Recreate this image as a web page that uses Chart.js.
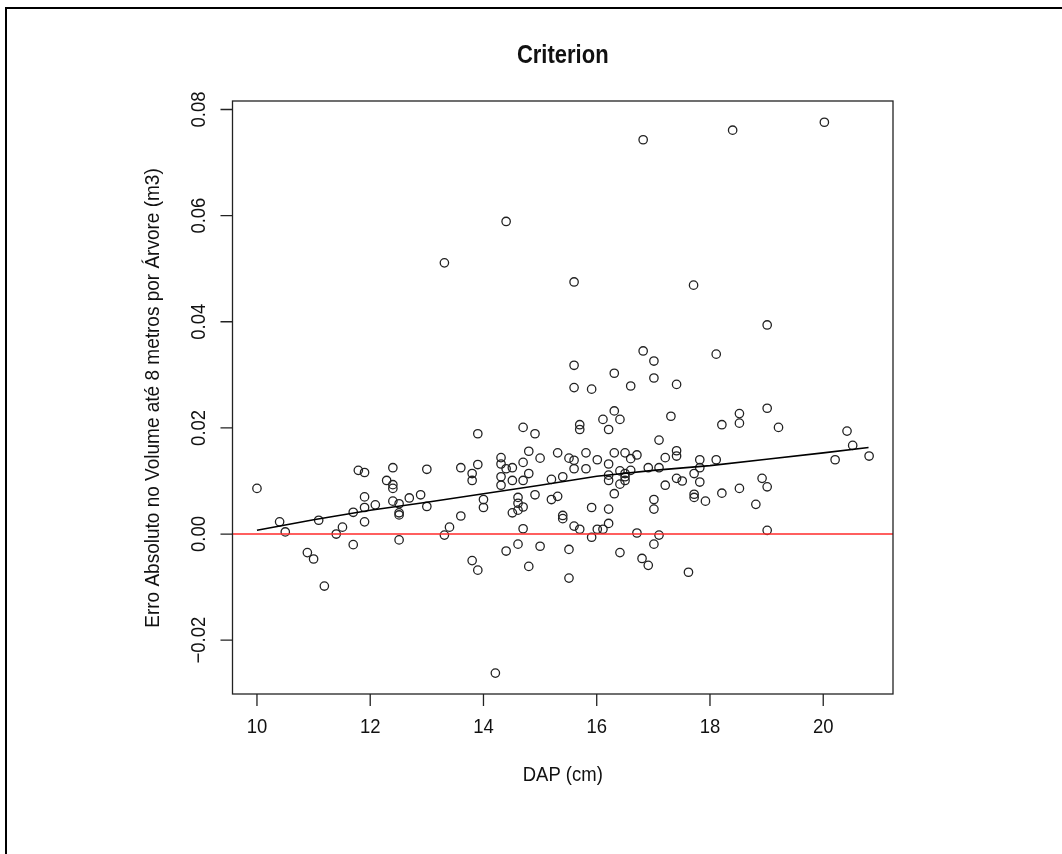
<!DOCTYPE html>
<html>
<head>
<meta charset="utf-8">
<script src="https://cdn.jsdelivr.net/npm/chart.js@4.4.1/dist/chart.umd.min.js"></script>
<style>
  html, body { margin:0; padding:0; background:#fff; }
  #wrap { position:relative; width:1062px; height:854px; }
  #frame { position:absolute; left:5px; top:7px; right:0; bottom:0; border-left:2px solid #000; border-top:2px solid #000; pointer-events:none; }
</style>
</head>
<body>
<div id="wrap">
  <canvas id="chart" width="1062" height="854"></canvas>
  <div id="frame"></div>
</div>
<script>
/* Criterion - residual scatter (DAP vs absolute volume error) */

const dap = [
  10.00, 10.40, 10.50, 10.89, 11.00, 11.09, 11.19, 11.40, 11.51, 11.70, 11.70, 11.79, 11.90, 11.90, 11.90, 11.90,
  12.09, 12.29, 12.40, 12.40, 12.40, 12.40, 12.51, 12.51, 12.51, 12.51, 12.69, 12.89, 13.00, 13.00, 13.31, 13.40,
  13.60, 13.60, 13.80, 13.80, 13.80, 13.90, 13.90, 13.90, 14.00, 14.00, 14.21, 14.31, 14.31, 14.31, 14.31, 14.40,
  14.40, 14.51, 14.51, 14.51, 14.61, 14.61, 14.61, 14.61, 14.70, 14.70, 14.70, 14.70, 14.70, 14.80, 14.80, 14.80,
  14.91, 14.91, 15.00, 15.00, 15.20, 15.20, 15.31, 15.31, 15.40, 15.40, 15.40, 15.51, 15.51, 15.51, 15.60, 15.60,
  15.60, 15.60, 15.70, 15.70, 15.70, 15.81, 15.81, 15.91, 15.91, 15.91, 16.01, 16.01, 16.11, 16.11, 16.21, 16.21,
  16.21, 16.21, 16.21, 16.21, 16.31, 16.31, 16.31, 16.41, 16.41, 16.41, 16.41, 16.50, 16.50, 16.50, 16.50, 16.60,
  16.60, 16.60, 16.71, 16.71, 16.80, 16.91, 16.91, 17.01, 17.01, 17.01, 17.10, 17.10, 17.10,
  16.82, 17.01, 17.01, 17.41, 17.31, 17.21, 17.41, 17.41, 17.21, 17.41, 17.51, 17.72, 17.82, 17.82, 17.82, 17.72,
  17.72, 17.92, 17.62, 18.11, 18.11, 18.21, 18.21, 18.52, 18.52, 18.52, 18.81, 18.92, 19.01, 19.01, 19.01, 19.01,
  19.21, 20.21, 20.42, 20.52, 20.81,
  20.02, 18.40, 16.82, 14.40, 13.31, 15.60, 17.71, 15.60, 16.31
];
const erro = [
  0.0086, 0.0023, 0.0004, -0.0035, -0.0047, 0.0026, -0.0098, 0.0000, 0.0013, -0.0020, 0.0041, 0.0120, 0.0116, 0.0070, 0.0050, 0.0023,
  0.0055, 0.0101, 0.0125, 0.0093, 0.0086, 0.0062, 0.0057, 0.0040, 0.0036, -0.0011, 0.0068, 0.0074, 0.0122, 0.0052, -0.0002, 0.0013,
  0.0034, 0.0125, 0.0114, 0.0101, -0.0050, -0.0068, 0.0131, 0.0189, 0.0065, 0.0050, -0.0262, 0.0144, 0.0132, 0.0108, 0.0092, 0.0123,
  -0.0032, 0.0125, 0.0101, 0.0040, 0.0069, 0.0058, 0.0045, -0.0019, 0.0201, 0.0135, 0.0101, 0.0051, 0.0010, 0.0156, 0.0114, -0.0061,
  0.0189, 0.0074, 0.0143, -0.0023, 0.0103, 0.0065, 0.0153, 0.0071, 0.0108, 0.0035, 0.0029, 0.0143, -0.0029, -0.0083, 0.0276, 0.0139,
  0.0123, 0.0015, 0.0206, 0.0197, 0.0009, 0.0153, 0.0123, 0.0273, 0.0050, -0.0006, 0.0140, 0.0009, 0.0216, 0.0009, 0.0197, 0.0132,
  0.0111, 0.0101, 0.0047, 0.0020, 0.0232, 0.0153, 0.0076, 0.0216, 0.0119, 0.0094, -0.0035, 0.0153, 0.0114, 0.0108, 0.0101, 0.0279,
  0.0142, 0.0120, 0.0149, 0.0002, -0.0046, -0.0059, 0.0125, 0.0065, 0.0047, -0.0019, 0.0177, 0.0125, -0.0002,
  0.0345, 0.0326, 0.0294, 0.0282, 0.0222, 0.0144, 0.0157, 0.0147, 0.0092, 0.0105, 0.0100, 0.0114, 0.0140, 0.0125, 0.0098, 0.0075,
  0.0069, 0.0062, -0.0072, 0.0339, 0.0140, 0.0206, 0.0077, 0.0227, 0.0209, 0.0086, 0.0056, 0.0105, 0.0394, 0.0237, 0.0089, 0.0007,
  0.0201, 0.0140, 0.0194, 0.0167, 0.0147,
  0.0776, 0.0761, 0.0743, 0.0589, 0.0511, 0.0475, 0.0469, 0.0318, 0.0303
];

// smoother line
const fitX = [10, 11, 12, 13, 14, 15, 16, 17, 18, 19, 20, 20.8];
const fitY = [0.0007, 0.0027, 0.0045, 0.0060, 0.0076, 0.0092, 0.0109, 0.0120, 0.0129, 0.0141, 0.0153, 0.0163];

const refLine = 0;

const xTicks = [10, 12, 14, 16, 18, 20];
const xTickLabels = ['10', '12', '14', '16', '18', '20'];
const yTicks = [-0.02, 0, 0.02, 0.04, 0.06, 0.08];
const yTickLabels = ['\u22120.02', '0.00', '0.02', '0.04', '0.06', '0.08'];

const chartTitle = 'Criterion';
const xTitle = 'DAP (cm)';
const yTitle = 'Erro Absoluto no Volume até 8 metros por Árvore (m3)';

const FONT = '"Liberation Sans", Arial, Helvetica, sans-serif';

function text(ctx, str, x, y, font, rot, k) {
  ctx.save();
  ctx.translate(x, y);
  if (rot) ctx.rotate(rot);
  ctx.scale(k || 0.88, 1);
  ctx.font = font;
  ctx.fillStyle = '#111';
  ctx.textAlign = 'center';
  ctx.textBaseline = 'middle';
  ctx.fillText(str, 0, 0);
  ctx.restore();
}

// R style box, ticks, labels and the h=0 line
const rAxes = {
  id: 'rAxes',
  afterDatasetsDraw(chart) {
    const { ctx, chartArea: a, scales: { y } } = chart;
    ctx.save();
    const y0 = y.getPixelForValue(refLine);
    ctx.strokeStyle = '#ff2a2a';
    ctx.lineWidth = 1.5;
    ctx.beginPath(); ctx.moveTo(a.left, y0); ctx.lineTo(a.right, y0); ctx.stroke();
    ctx.restore();
  },
  afterDraw(chart) {
    const { ctx, chartArea: a, scales: { x, y } } = chart;
    ctx.save();
    ctx.strokeStyle = '#222';
    ctx.lineWidth = 1.3;
    ctx.strokeRect(a.left, a.top, a.right - a.left, a.bottom - a.top);

    ctx.beginPath();
    xTicks.forEach(v => {
      const px = x.getPixelForValue(v);
      ctx.moveTo(px, a.bottom); ctx.lineTo(px, a.bottom + 12);
    });
    yTicks.forEach(v => {
      const py = y.getPixelForValue(v);
      ctx.moveTo(a.left, py); ctx.lineTo(a.left - 12, py);
    });
    ctx.stroke();

    const f = '21px ' + FONT;
    xTicks.forEach((v, i) => text(ctx, xTickLabels[i], x.getPixelForValue(v), 727, f));
    yTicks.forEach((v, i) => text(ctx, yTickLabels[i], 199, y.getPixelForValue(v), f, -Math.PI / 2));

    const cx = (a.left + a.right) / 2;
    text(ctx, chartTitle, cx, 56, 'bold 25px ' + FONT);
    text(ctx, xTitle, cx, 775, f);
    text(ctx, yTitle, 153, 398, f, -Math.PI / 2, 0.905);
    ctx.restore();
  }
};

new Chart(document.getElementById('chart'), {
  type: 'scatter',
  data: {
    datasets: [
      {
        type: 'line',
        label: 'lowess',
        data: fitX.map((v, i) => ({ x: v, y: fitY[i] })),
        borderColor: '#000',
        borderWidth: 1.6,
        pointRadius: 0,
        tension: 0,
        fill: false,
        order: 0
      },
      {
        label: 'Criterion',
        data: dap.map((v, i) => ({ x: v, y: erro[i] })),
        pointStyle: 'circle',
        pointRadius: 4.2,
        borderWidth: 1.3,
        borderColor: '#222',
        backgroundColor: 'rgba(0,0,0,0)',
        order: 1
      }
    ]
  },
  options: {
    responsive: false,
    animation: false,
    layout: { padding: { top: 101, right: 169, bottom: 0, left: 0 } },
    plugins: { legend: { display: false }, tooltip: { enabled: false }, title: { display: false } },
    scales: {
      x: {
        type: 'linear', min: 9.568, max: 21.232,
        grid: { display: false }, border: { display: false },
        ticks: { display: false },
        afterBuildTicks: s => { s.ticks = xTicks.map(v => ({ value: v })); },
        afterFit: s => { s.height = 160; }
      },
      y: {
        type: 'linear', min: -0.03014, max: 0.0816,
        grid: { display: false }, border: { display: false },
        ticks: { display: false },
        afterBuildTicks: s => { s.ticks = yTicks.map(v => ({ value: v })); },
        afterFit: s => { s.width = 232.5; }
      }
    }
  },
  plugins: [rAxes]
});
</script>
</body>
</html>
